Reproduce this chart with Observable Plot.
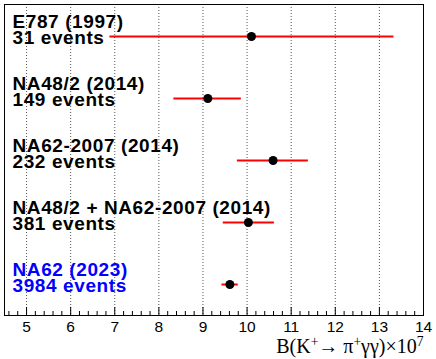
<!DOCTYPE html>
<html>
<head>
<meta charset="utf-8">
<script src="https://cdn.jsdelivr.net/npm/d3@7"></script>
<script src="https://cdn.jsdelivr.net/npm/@observablehq/plot@0.6"></script>
<style>
  html, body { margin: 0; padding: 0; background: #fff; }
  #chart svg { display: block; }
  .row-label text { letter-spacing: 0.6px; }
</style>
</head>
<body>
<div id="chart"></div>
<script>
const experiments = ["E787 (1997)", "NA48/2 (2014)", "NA62-2007 (2014)", "NA48/2 + NA62-2007 (2014)", "NA62 (2023)"];
const eventCounts = ["31 events", "149 events", "232 events", "381 events", "3984 events"];
const centralValues = [10.10, 9.11, 10.59, 10.03, 9.61];
const lowerBounds = [6.89, 8.34, 9.78, 9.46, 9.43];
const upperBounds = [13.33, 9.87, 11.39, 10.62, 9.80];
const newest = "NA62 (2023)";
const xTicks = [5, 6, 7, 8, 9, 10, 11, 12, 13, 14];
const gridLines = [5, 6, 7, 8, 9, 10, 11, 12, 13];
const minorTicks = d3.range(46, 141, 2).map(v => v / 10).filter(v => !Number.isInteger(v));
const axisTitleParts = [["B(K", false], ["+", true], ["\u2192 \u03C0", false], ["+", true], ["\u03B3\u03B3)\u00D710", false], ["7", true]];
const axisTitle = axisTitleParts.map(p => p[0]).join("");

const rows = experiments.map((e, i) => ({
  experiment: e,
  events: eventCounts[i],
  value: centralValues[i],
  lo: lowerBounds[i],
  hi: upperBounds[i]
}));

const sans = "'Liberation Sans', Arial, Helvetica, sans-serif";

const chart = Plot.plot({
  width: 436,
  height: 359,
  marginLeft: 4,
  marginRight: 13,
  marginTop: 4,
  marginBottom: 44,
  style: { fontFamily: sans, background: "#fff" },
  x: { domain: [4.5, 14] },
  y: { type: "point", domain: experiments, padding: 0.5, axis: null },
  marks: [
    Plot.ruleX(gridLines, { stroke: "#555", strokeDasharray: "1,2", strokeWidth: 1 }),
    Plot.ruleX(xTicks, { stroke: "#000", insetTop: 303 }),
    Plot.ruleX(minorTicks, { stroke: "#000", insetTop: 307 }),
    Plot.axisX({ ticks: xTicks, tickSize: 0, tickPadding: 5, fontSize: 15.5, tickFormat: d => String(d), label: null }),
    Plot.ruleY(rows, { y: "experiment", x1: "lo", x2: "hi", stroke: "#ff0000", strokeWidth: 2 }),
    Plot.dot(rows, { y: "experiment", x: "value", r: 4.5, fill: "#000", stroke: null }),
    Plot.text(rows, {
      y: "experiment",
      frameAnchor: "left",
      text: d => d.experiment + "\n" + d.events,
      textAnchor: "start",
      lineAnchor: "middle",
      lineHeight: 0.88,
      dx: 8,
      dy: -6,
      fontSize: 19,
      fontWeight: "bold",
      fill: d => d.experiment === newest ? "#0000ff" : "#000",
      className: "row-label"
    }),
    Plot.frame({ stroke: "#000", strokeWidth: 1 }),
    Plot.text([axisTitle], {
      frameAnchor: "bottom-right",
      text: d => d,
      textAnchor: "end",
      lineAnchor: "bottom",
      dy: 37,
      fontSize: 20,
      fontFamily: "'Liberation Serif', 'Times New Roman', serif",
      fill: "#000",
      className: "axis-title"
    })
  ]
});

// Render superscripts of the axis title as raised tspans (text stays real text)
d3.select(chart).selectAll(".axis-title text").each(function () {
  const t = d3.select(this);
  t.text(null);
  for (const [s, sup] of axisTitleParts) {
    const sp = t.append("tspan").text(s);
    if (sup) sp.attr("font-size", "0.68em").attr("baseline-shift", "super");
  }
});

document.getElementById("chart").appendChild(chart);
</script>
</body>
</html>
